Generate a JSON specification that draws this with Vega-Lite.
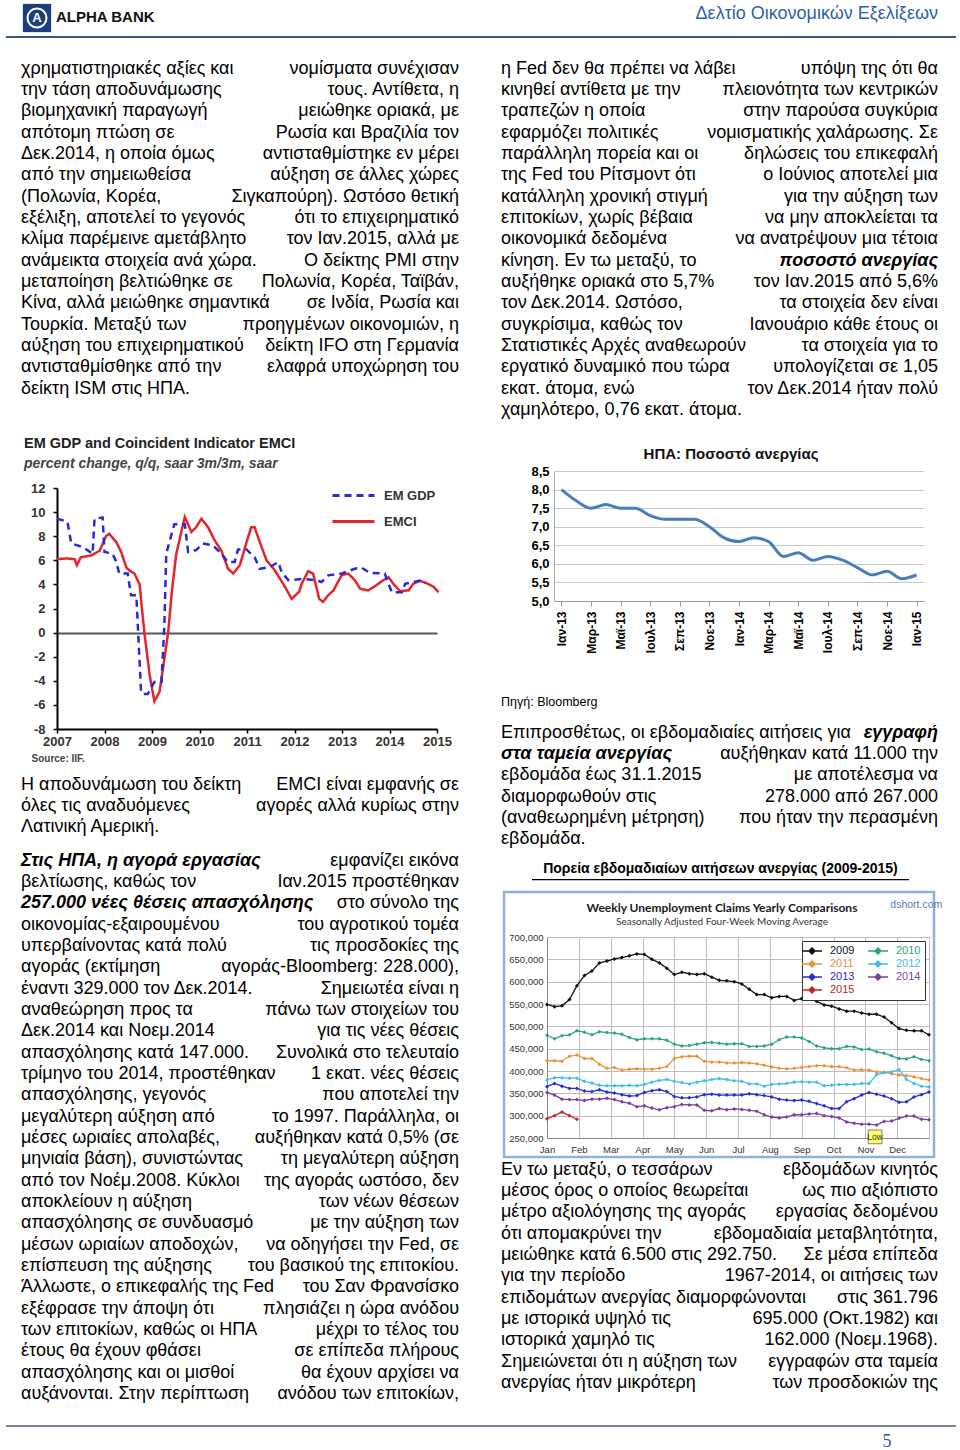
{
"$schema":"https://vega.github.io/schema/vega-lite/v6.json",
"padding":{"left":5,"top":3,"right":0,"bottom":0},
"background":"#ffffff",
"config":{"view":{"stroke":null},"font":"Liberation Sans","axis":{"labelFont":"Liberation Sans","titleFont":"Liberation Sans","labelOverlap":false,"labelFlush":false},"legend":{"labelFont":"Liberation Sans"},"title":{"font":"Liberation Sans","subtitleFont":"Liberation Sans"}},
"datasets":{
"leftA":[
{"ln":0,"a":"L","s":"n","t":"χρηματιστηριακές αξίες και"},{"ln":0,"a":"R","s":"n","t":"νομίσματα συνέχισαν"},
{"ln":1,"a":"L","s":"n","t":"την τάση αποδυνάμωσης"},{"ln":1,"a":"R","s":"n","t":"τους. Αντίθετα, η"},
{"ln":2,"a":"L","s":"n","t":"βιομηχανική παραγωγή"},{"ln":2,"a":"R","s":"n","t":"μειώθηκε οριακά, με"},
{"ln":3,"a":"L","s":"n","t":"απότομη πτώση σε"},{"ln":3,"a":"R","s":"n","t":"Ρωσία και Βραζιλία τον"},
{"ln":4,"a":"L","s":"n","t":"Δεκ.2014, η οποία όμως"},{"ln":4,"a":"R","s":"n","t":"αντισταθμίστηκε εν μέρει"},
{"ln":5,"a":"L","s":"n","t":"από την σημειωθείσα"},{"ln":5,"a":"R","s":"n","t":"αύξηση σε άλλες χώρες"},
{"ln":6,"a":"L","s":"n","t":"(Πολωνία, Κορέα,"},{"ln":6,"a":"R","s":"n","t":"Σιγκαπούρη). Ωστόσο θετική"},
{"ln":7,"a":"L","s":"n","t":"εξέλιξη, αποτελεί το γεγονός"},{"ln":7,"a":"R","s":"n","t":"ότι το επιχειρηματικό"},
{"ln":8,"a":"L","s":"n","t":"κλίμα παρέμεινε αμετάβλητο"},{"ln":8,"a":"R","s":"n","t":"τον Ιαν.2015, αλλά με"},
{"ln":9,"a":"L","s":"n","t":"ανάμεικτα στοιχεία ανά χώρα."},{"ln":9,"a":"R","s":"n","t":"Ο δείκτης PMI στην"},
{"ln":10,"a":"L","s":"n","t":"μεταποίηση βελτιώθηκε σε"},{"ln":10,"a":"R","s":"n","t":"Πολωνία, Κορέα, Ταϊβάν,"},
{"ln":11,"a":"L","s":"n","t":"Κίνα, αλλά μειώθηκε σημαντικά"},{"ln":11,"a":"R","s":"n","t":"σε Ινδία, Ρωσία και"},
{"ln":12,"a":"L","s":"n","t":"Τουρκία. Μεταξύ των"},{"ln":12,"a":"R","s":"n","t":"προηγμένων οικονομιών, η"},
{"ln":13,"a":"L","s":"n","t":"αύξηση του επιχειρηματικού"},{"ln":13,"a":"R","s":"n","t":"δείκτη IFO στη Γερμανία"},
{"ln":14,"a":"L","s":"n","t":"αντισταθμίσθηκε από την"},{"ln":14,"a":"R","s":"n","t":"ελαφρά υποχώρηση του"},
{"ln":15,"a":"L","s":"n","t":"δείκτη  ISM στις ΗΠΑ."}
],
"leftB":[
{"ln":0,"a":"L","s":"n","t":"Η αποδυνάμωση του δείκτη"},{"ln":0,"a":"R","s":"n","t":"EMCI είναι εμφανής σε"},
{"ln":1,"a":"L","s":"n","t":"όλες τις αναδυόμενες"},{"ln":1,"a":"R","s":"n","t":"αγορές αλλά κυρίως στην"},
{"ln":2,"a":"L","s":"n","t":"Λατινική Αμερική."}
],
"leftC":[
{"ln":0,"a":"L","s":"b","t":"Στις ΗΠΑ, η αγορά εργασίας"},{"ln":0,"a":"R","s":"n","t":"εμφανίζει εικόνα"},
{"ln":1,"a":"L","s":"n","t":"βελτίωσης, καθώς τον"},{"ln":1,"a":"R","s":"n","t":"Ιαν.2015 προστέθηκαν"},
{"ln":2,"a":"L","s":"b","t":"257.000 νέες θέσεις απασχόλησης"},{"ln":2,"a":"R","s":"n","t":"στο σύνολο της"},
{"ln":3,"a":"L","s":"n","t":"οικονομίας-εξαιρουμένου"},{"ln":3,"a":"R","s":"n","t":"του αγροτικού τομέα"},
{"ln":4,"a":"L","s":"n","t":"υπερβαίνοντας κατά πολύ"},{"ln":4,"a":"R","s":"n","t":"τις προσδοκίες της"},
{"ln":5,"a":"L","s":"n","t":"αγοράς (εκτίμηση"},{"ln":5,"a":"R","s":"n","t":"αγοράς-Bloomberg: 228.000),"},
{"ln":6,"a":"L","s":"n","t":"έναντι 329.000 τον Δεκ.2014."},{"ln":6,"a":"R","s":"n","t":"Σημειωτέα είναι η"},
{"ln":7,"a":"L","s":"n","t":"αναθεώρηση προς τα"},{"ln":7,"a":"R","s":"n","t":"πάνω των στοιχείων του"},
{"ln":8,"a":"L","s":"n","t":"Δεκ.2014 και Νοεμ.2014"},{"ln":8,"a":"R","s":"n","t":"για τις νέες θέσεις"},
{"ln":9,"a":"L","s":"n","t":"απασχόλησης κατά 147.000."},{"ln":9,"a":"R","s":"n","t":"Συνολικά στο τελευταίο"},
{"ln":10,"a":"L","s":"n","t":"τρίμηνο του 2014, προστέθηκαν"},{"ln":10,"a":"R","s":"n","t":"1 εκατ. νέες θέσεις"},
{"ln":11,"a":"L","s":"n","t":"απασχόλησης, γεγονός"},{"ln":11,"a":"R","s":"n","t":"που αποτελεί την"},
{"ln":12,"a":"L","s":"n","t":"μεγαλύτερη αύξηση από"},{"ln":12,"a":"R","s":"n","t":"το 1997. Παράλληλα, οι"},
{"ln":13,"a":"L","s":"n","t":"μέσες ωριαίες απολαβές,"},{"ln":13,"a":"R","s":"n","t":"αυξήθηκαν κατά 0,5% (σε"},
{"ln":14,"a":"L","s":"n","t":"μηνιαία βάση), συνιστώντας"},{"ln":14,"a":"R","s":"n","t":"τη μεγαλύτερη αύξηση"},
{"ln":15,"a":"L","s":"n","t":"από τον Νοέμ.2008. Κύκλοι"},{"ln":15,"a":"R","s":"n","t":"της αγοράς ωστόσο, δεν"},
{"ln":16,"a":"L","s":"n","t":"αποκλείουν η αύξηση"},{"ln":16,"a":"R","s":"n","t":"των νέων θέσεων"},
{"ln":17,"a":"L","s":"n","t":"απασχόλησης σε συνδυασμό"},{"ln":17,"a":"R","s":"n","t":"με την αύξηση των"},
{"ln":18,"a":"L","s":"n","t":"μέσων ωριαίων αποδοχών,"},{"ln":18,"a":"R","s":"n","t":"να οδηγήσει την Fed, σε"},
{"ln":19,"a":"L","s":"n","t":"επίσπευση της αύξησης"},{"ln":19,"a":"R","s":"n","t":"του βασικού της επιτοκίου."},
{"ln":20,"a":"L","s":"n","t":"Άλλωστε, ο επικεφαλής της Fed"},{"ln":20,"a":"R","s":"n","t":"του Σαν Φρανσίσκο"},
{"ln":21,"a":"L","s":"n","t":"εξέφρασε την άποψη ότι"},{"ln":21,"a":"R","s":"n","t":"πλησιάζει η ώρα ανόδου"},
{"ln":22,"a":"L","s":"n","t":"των επιτοκίων, καθώς οι ΗΠΑ"},{"ln":22,"a":"R","s":"n","t":"μέχρι το τέλος του"},
{"ln":23,"a":"L","s":"n","t":"έτους θα έχουν φθάσει"},{"ln":23,"a":"R","s":"n","t":"σε επίπεδα πλήρους"},
{"ln":24,"a":"L","s":"n","t":"απασχόλησης και οι μισθοί"},{"ln":24,"a":"R","s":"n","t":"θα έχουν αρχίσει να"},
{"ln":25,"a":"L","s":"n","t":"αυξάνονται. Στην περίπτωση"},{"ln":25,"a":"R","s":"n","t":"ανόδου των επιτοκίων,"}
],
"rightA":[
{"ln":0,"a":"L","s":"n","t":"η Fed δεν θα πρέπει να λάβει"},{"ln":0,"a":"R","s":"n","t":"υπόψη της ότι θα"},
{"ln":1,"a":"L","s":"n","t":"κινηθεί αντίθετα με την"},{"ln":1,"a":"R","s":"n","t":"πλειονότητα των κεντρικών"},
{"ln":2,"a":"L","s":"n","t":"τραπεζών η οποία"},{"ln":2,"a":"R","s":"n","t":"στην παρούσα συγκύρια"},
{"ln":3,"a":"L","s":"n","t":"εφαρμόζει πολιτικές"},{"ln":3,"a":"R","s":"n","t":"νομισματικής χαλάρωσης. Σε"},
{"ln":4,"a":"L","s":"n","t":"παράλληλη πορεία και οι"},{"ln":4,"a":"R","s":"n","t":"δηλώσεις του επικεφαλή"},
{"ln":5,"a":"L","s":"n","t":"της Fed του Ρίτσμοντ ότι"},{"ln":5,"a":"R","s":"n","t":"ο Ιούνιος αποτελεί μια"},
{"ln":6,"a":"L","s":"n","t":"κατάλληλη χρονική στιγμή"},{"ln":6,"a":"R","s":"n","t":"για την αύξηση των"},
{"ln":7,"a":"L","s":"n","t":"επιτοκίων, χωρίς βέβαια"},{"ln":7,"a":"R","s":"n","t":"να μην αποκλείεται τα"},
{"ln":8,"a":"L","s":"n","t":"οικονομικά δεδομένα"},{"ln":8,"a":"R","s":"n","t":"να ανατρέψουν μια τέτοια"},
{"ln":9,"a":"L","s":"n","t":"κίνηση. Εν τω μεταξύ, το"},{"ln":9,"a":"R","s":"b","t":"ποσοστό ανεργίας"},
{"ln":10,"a":"L","s":"n","t":"αυξήθηκε οριακά στο 5,7%"},{"ln":10,"a":"R","s":"n","t":"τον Ιαν.2015 από 5,6%"},
{"ln":11,"a":"L","s":"n","t":"τον Δεκ.2014. Ωστόσο,"},{"ln":11,"a":"R","s":"n","t":"τα στοιχεία δεν είναι"},
{"ln":12,"a":"L","s":"n","t":"συγκρίσιμα, καθώς τον"},{"ln":12,"a":"R","s":"n","t":"Ιανουάριο κάθε έτους οι"},
{"ln":13,"a":"L","s":"n","t":"Στατιστικές Αρχές αναθεωρούν"},{"ln":13,"a":"R","s":"n","t":"τα στοιχεία για το"},
{"ln":14,"a":"L","s":"n","t":"εργατικό δυναμικό που τώρα"},{"ln":14,"a":"R","s":"n","t":"υπολογίζεται σε 1,05"},
{"ln":15,"a":"L","s":"n","t":"εκατ. άτομα, ενώ"},{"ln":15,"a":"R","s":"n","t":"τον Δεκ.2014 ήταν πολύ"},
{"ln":16,"a":"L","s":"n","t":"χαμηλότερο, 0,76 εκατ. άτομα."}
],
"rightS":[{"ln":0,"a":"L","s":"n","t":"Πηγή: Bloomberg"}],
"rightC":[
{"ln":0,"a":"L","s":"n","t":"Επιπροσθέτως, οι εβδομαδιαίες αιτήσεις για"},{"ln":0,"a":"R","s":"b","t":"εγγραφή"},
{"ln":1,"a":"L","s":"b","t":"στα ταμεία ανεργίας"},{"ln":1,"a":"R","s":"n","t":"αυξήθηκαν κατά 11.000 την"},
{"ln":2,"a":"L","s":"n","t":"εβδομάδα έως 31.1.2015"},{"ln":2,"a":"R","s":"n","t":"με αποτέλεσμα να"},
{"ln":3,"a":"L","s":"n","t":"διαμορφωθούν στις"},{"ln":3,"a":"R","s":"n","t":"278.000 από 267.000"},
{"ln":4,"a":"L","s":"n","t":"(αναθεωρημένη μέτρηση)"},{"ln":4,"a":"R","s":"n","t":"που ήταν την περασμένη"},
{"ln":5,"a":"L","s":"n","t":"εβδομάδα."}
],
"rightD":[
{"ln":0,"a":"L","s":"n","t":"Εν τω μεταξύ, ο τεσσάρων"},{"ln":0,"a":"R","s":"n","t":"εβδομάδων κινητός"},
{"ln":1,"a":"L","s":"n","t":"μέσος όρος ο οποίος θεωρείται"},{"ln":1,"a":"R","s":"n","t":"ως πιο αξιόπιστο"},
{"ln":2,"a":"L","s":"n","t":"μέτρο αξιολόγησης της αγοράς"},{"ln":2,"a":"R","s":"n","t":"εργασίας δεδομένου"},
{"ln":3,"a":"L","s":"n","t":"ότι απομακρύνει την"},{"ln":3,"a":"R","s":"n","t":"εβδομαδιαία μεταβλητότητα,"},
{"ln":4,"a":"L","s":"n","t":"μειώθηκε κατά 6.500 στις 292.750."},{"ln":4,"a":"R","s":"n","t":"Σε μέσα επίπεδα"},
{"ln":5,"a":"L","s":"n","t":"για την περίοδο"},{"ln":5,"a":"R","s":"n","t":"1967-2014, οι αιτήσεις των"},
{"ln":6,"a":"L","s":"n","t":"επιδομάτων ανεργίας διαμορφώνονται"},{"ln":6,"a":"R","s":"n","t":"στις 361.796"},
{"ln":7,"a":"L","s":"n","t":"με ιστορικά υψηλό τις"},{"ln":7,"a":"R","s":"n","t":"695.000 (Οκτ.1982) και"},
{"ln":8,"a":"L","s":"n","t":"ιστορικά χαμηλό τις"},{"ln":8,"a":"R","s":"n","t":"162.000 (Νοεμ.1968)."},
{"ln":9,"a":"L","s":"n","t":"Σημειώνεται ότι η αύξηση των"},{"ln":9,"a":"R","s":"n","t":"εγγραφών στα ταμεία"},
{"ln":10,"a":"L","s":"n","t":"ανεργίας ήταν μικρότερη"},{"ln":10,"a":"R","s":"n","t":"των προσδοκιών της"}
],
"em":[
{"s":"EMCI","t":2007.0,"v":6.1},{"s":"EMCI","t":2007.2,"v":6.15},{"s":"EMCI","t":2007.37,"v":6.1},{"s":"EMCI","t":2007.42,"v":5.6},{"s":"EMCI","t":2007.5,"v":6.25},{"s":"EMCI","t":2007.72,"v":6.4},{"s":"EMCI","t":2007.9,"v":6.8},{"s":"EMCI","t":2008.03,"v":8.0},{"s":"EMCI","t":2008.1,"v":8.2},{"s":"EMCI","t":2008.25,"v":7.5},{"s":"EMCI","t":2008.35,"v":6.7},{"s":"EMCI","t":2008.46,"v":5.4},{"s":"EMCI","t":2008.53,"v":5.15},{"s":"EMCI","t":2008.63,"v":4.9},{"s":"EMCI","t":2008.74,"v":4.0},{"s":"EMCI","t":2008.78,"v":2.3},{"s":"EMCI","t":2008.84,"v":0.0},{"s":"EMCI","t":2008.95,"v":-3.5},{"s":"EMCI","t":2009.05,"v":-5.7},{"s":"EMCI","t":2009.16,"v":-4.9},{"s":"EMCI","t":2009.26,"v":-2.2},{"s":"EMCI","t":2009.34,"v":0.0},{"s":"EMCI","t":2009.42,"v":3.5},{"s":"EMCI","t":2009.51,"v":6.5},{"s":"EMCI","t":2009.69,"v":9.6},{"s":"EMCI","t":2009.83,"v":8.35},{"s":"EMCI","t":2009.93,"v":8.75},{"s":"EMCI","t":2010.04,"v":9.45},{"s":"EMCI","t":2010.18,"v":8.75},{"s":"EMCI","t":2010.32,"v":7.65},{"s":"EMCI","t":2010.46,"v":6.8},{"s":"EMCI","t":2010.6,"v":5.3},{"s":"EMCI","t":2010.71,"v":4.9},{"s":"EMCI","t":2010.85,"v":5.6},{"s":"EMCI","t":2010.99,"v":7.5},{"s":"EMCI","t":2011.09,"v":8.75},{"s":"EMCI","t":2011.16,"v":8.75},{"s":"EMCI","t":2011.27,"v":7.5},{"s":"EMCI","t":2011.41,"v":6.0},{"s":"EMCI","t":2011.58,"v":5.2},{"s":"EMCI","t":2011.8,"v":3.8},{"s":"EMCI","t":2011.94,"v":2.8},{"s":"EMCI","t":2012.1,"v":3.4},{"s":"EMCI","t":2012.15,"v":4.05},{"s":"EMCI","t":2012.29,"v":5.1},{"s":"EMCI","t":2012.39,"v":4.9},{"s":"EMCI","t":2012.46,"v":3.8},{"s":"EMCI","t":2012.52,"v":2.8},{"s":"EMCI","t":2012.6,"v":2.55},{"s":"EMCI","t":2012.71,"v":3.1},{"s":"EMCI","t":2012.82,"v":3.5},{"s":"EMCI","t":2012.99,"v":4.75},{"s":"EMCI","t":2013.13,"v":4.9},{"s":"EMCI","t":2013.27,"v":4.35},{"s":"EMCI","t":2013.38,"v":3.65},{"s":"EMCI","t":2013.55,"v":3.5},{"s":"EMCI","t":2013.69,"v":3.85},{"s":"EMCI","t":2013.87,"v":4.35},{"s":"EMCI","t":2013.98,"v":4.6},{"s":"EMCI","t":2014.08,"v":4.05},{"s":"EMCI","t":2014.22,"v":3.45},{"s":"EMCI","t":2014.4,"v":3.5},{"s":"EMCI","t":2014.5,"v":4.05},{"s":"EMCI","t":2014.64,"v":4.3},{"s":"EMCI","t":2014.78,"v":4.1},{"s":"EMCI","t":2014.93,"v":3.8},{"s":"EMCI","t":2015.03,"v":3.35},
{"s":"EM GDP","t":2007.0,"v":9.45},{"s":"EM GDP","t":2007.22,"v":9.2},{"s":"EM GDP","t":2007.3,"v":7.4},{"s":"EM GDP","t":2007.54,"v":7.1},{"s":"EM GDP","t":2007.75,"v":6.55},{"s":"EM GDP","t":2007.79,"v":9.45},{"s":"EM GDP","t":2007.96,"v":9.55},{"s":"EM GDP","t":2008.0,"v":6.7},{"s":"EM GDP","t":2008.17,"v":6.55},{"s":"EM GDP","t":2008.25,"v":5.85},{"s":"EM GDP","t":2008.31,"v":4.9},{"s":"EM GDP","t":2008.49,"v":4.9},{"s":"EM GDP","t":2008.53,"v":3.8},{"s":"EM GDP","t":2008.56,"v":3.1},{"s":"EM GDP","t":2008.67,"v":3.1},{"s":"EM GDP","t":2008.77,"v":-4.9},{"s":"EM GDP","t":2008.8,"v":-5.1},{"s":"EM GDP","t":2008.91,"v":-5.1},{"s":"EM GDP","t":2009.05,"v":-4.1},{"s":"EM GDP","t":2009.2,"v":-4.1},{"s":"EM GDP","t":2009.26,"v":0.6},{"s":"EM GDP","t":2009.3,"v":6.55},{"s":"EM GDP","t":2009.47,"v":9.0},{"s":"EM GDP","t":2009.69,"v":9.0},{"s":"EM GDP","t":2009.76,"v":6.7},{"s":"EM GDP","t":2009.93,"v":6.85},{"s":"EM GDP","t":2010.07,"v":7.4},{"s":"EM GDP","t":2010.28,"v":7.25},{"s":"EM GDP","t":2010.46,"v":6.55},{"s":"EM GDP","t":2010.6,"v":5.85},{"s":"EM GDP","t":2010.74,"v":5.85},{"s":"EM GDP","t":2010.81,"v":6.9},{"s":"EM GDP","t":2010.99,"v":6.9},{"s":"EM GDP","t":2011.16,"v":6.25},{"s":"EM GDP","t":2011.27,"v":5.3},{"s":"EM GDP","t":2011.48,"v":5.45},{"s":"EM GDP","t":2011.66,"v":5.85},{"s":"EM GDP","t":2011.73,"v":5.0},{"s":"EM GDP","t":2011.87,"v":4.35},{"s":"EM GDP","t":2012.18,"v":4.45},{"s":"EM GDP","t":2012.43,"v":4.35},{"s":"EM GDP","t":2012.57,"v":4.2},{"s":"EM GDP","t":2012.71,"v":4.75},{"s":"EM GDP","t":2012.99,"v":4.9},{"s":"EM GDP","t":2013.27,"v":5.3},{"s":"EM GDP","t":2013.41,"v":5.4},{"s":"EM GDP","t":2013.59,"v":4.95},{"s":"EM GDP","t":2013.9,"v":4.9},{"s":"EM GDP","t":2013.98,"v":4.05},{"s":"EM GDP","t":2014.05,"v":3.35},{"s":"EM GDP","t":2014.26,"v":3.35},{"s":"EM GDP","t":2014.33,"v":4.05},{"s":"EM GDP","t":2014.68,"v":4.35},{"s":"EM GDP","t":2014.75,"v":4.1}
],
"ue":[
{"m":"Ιαν-13","v":8.0},{"m":"Φεβ-13","v":7.7},{"m":"Μαρ-13","v":7.5},{"m":"Απρ-13","v":7.6},{"m":"Μαϊ-13","v":7.5},{"m":"Ιουν-13","v":7.5},{"m":"Ιουλ-13","v":7.3},{"m":"Αυγ-13","v":7.2},{"m":"Σεπ-13","v":7.2},{"m":"Οκτ-13","v":7.2},{"m":"Νοε-13","v":7.0},{"m":"Δεκ-13","v":6.7},{"m":"Ιαν-14","v":6.6},{"m":"Φεβ-14","v":6.7},{"m":"Μαρ-14","v":6.6},{"m":"Απρ-14","v":6.2},{"m":"Μαϊ-14","v":6.3},{"m":"Ιουν-14","v":6.1},{"m":"Ιουλ-14","v":6.2},{"m":"Αυγ-14","v":6.1},{"m":"Σεπ-14","v":5.9},{"m":"Οκτ-14","v":5.7},{"m":"Νοε-14","v":5.8},{"m":"Δεκ-14","v":5.6},{"m":"Ιαν-15","v":5.7}
],
"claims":[
{"w":1,"2009":549,"2010":480,"2011":423,"2012":380,"2013":365,"2014":352,"2015":293},
{"w":2,"2009":544,"2010":472,"2011":423,"2012":385,"2013":372,"2014":346,"2015":300},
{"w":3,"2009":546,"2010":479,"2011":422,"2012":385,"2013":366,"2014":337,"2015":308},
{"w":4,"2009":560,"2010":481,"2011":433,"2012":384,"2013":361,"2014":336,"2015":300},
{"w":5,"2009":591,"2010":490,"2011":436,"2012":384,"2013":361,"2014":336,"2015":292},
{"w":6,"2009":614,"2010":487,"2011":428,"2012":377,"2013":355,"2014":334},
{"w":7,"2009":624,"2010":481,"2011":428,"2012":373,"2013":354,"2014":337},
{"w":8,"2009":642,"2010":488,"2011":415,"2012":368,"2013":358,"2014":337},
{"w":9,"2009":646,"2010":486,"2011":406,"2012":367,"2013":353,"2014":339},
{"w":10,"2009":651,"2010":485,"2011":408,"2012":367,"2013":351,"2014":336},
{"w":11,"2009":654,"2010":482,"2011":402,"2012":367,"2013":347,"2014":331},
{"w":12,"2009":658,"2010":475,"2011":404,"2012":368,"2013":344,"2014":328},
{"w":13,"2009":662,"2010":470,"2011":405,"2012":367,"2013":345,"2014":320},
{"w":14,"2009":661,"2010":472,"2011":404,"2012":370,"2013":352,"2014":322},
{"w":15,"2009":650,"2010":472,"2011":404,"2012":375,"2013":356,"2014":317},
{"w":16,"2009":642,"2010":472,"2011":406,"2012":379,"2013":358,"2014":313},
{"w":17,"2009":630,"2010":469,"2011":410,"2012":381,"2013":354,"2014":318},
{"w":18,"2009":616,"2010":460,"2011":428,"2012":377,"2013":343,"2014":320},
{"w":19,"2009":621,"2010":456,"2011":432,"2012":374,"2013":340,"2014":325},
{"w":20,"2009":618,"2010":457,"2011":433,"2012":371,"2013":340,"2014":324},
{"w":21,"2009":616,"2010":460,"2011":433,"2012":375,"2013":342,"2014":324},
{"w":22,"2009":618,"2010":463,"2011":422,"2012":378,"2013":347,"2014":312},
{"w":23,"2009":610,"2010":464,"2011":420,"2012":381,"2013":348,"2014":311},
{"w":24,"2009":603,"2010":462,"2011":420,"2012":383,"2013":346,"2014":316},
{"w":25,"2009":602,"2010":460,"2011":418,"2012":381,"2013":346,"2014":313},
{"w":26,"2009":600,"2010":461,"2011":418,"2012":378,"2013":346,"2014":315},
{"w":27,"2009":595,"2010":461,"2011":419,"2012":377,"2013":346,"2014":314},
{"w":28,"2009":583,"2010":455,"2011":418,"2012":371,"2013":349,"2014":312},
{"w":29,"2009":571,"2010":455,"2011":416,"2012":371,"2013":347,"2014":310},
{"w":30,"2009":571,"2010":456,"2011":413,"2012":366,"2013":345,"2014":302},
{"w":31,"2009":564,"2010":460,"2011":409,"2012":370,"2013":342,"2014":297},
{"w":32,"2009":567,"2010":470,"2011":406,"2012":371,"2013":337,"2014":295},
{"w":33,"2009":567,"2010":476,"2011":405,"2012":372,"2013":335,"2014":297},
{"w":34,"2009":558,"2010":476,"2011":406,"2012":375,"2013":334,"2014":302},
{"w":35,"2009":562,"2010":474,"2011":408,"2012":376,"2013":335,"2014":302},
{"w":36,"2009":562,"2010":466,"2011":410,"2012":375,"2013":332,"2014":304},
{"w":37,"2009":556,"2010":456,"2011":412,"2012":375,"2013":327,"2014":305},
{"w":38,"2009":548,"2010":452,"2011":412,"2012":367,"2013":322,"2014":300},
{"w":39,"2009":545,"2010":450,"2011":410,"2012":368,"2013":316,"2014":298},
{"w":40,"2009":539,"2010":450,"2011":410,"2012":370,"2013":316,"2014":295},
{"w":41,"2009":534,"2010":455,"2011":407,"2012":370,"2013":331,"2014":286},
{"w":42,"2009":534,"2010":454,"2011":402,"2012":370,"2013":338,"2014":283},
{"w":43,"2009":530,"2010":448,"2011":403,"2012":372,"2013":346,"2014":281},
{"w":44,"2009":527,"2010":449,"2011":402,"2012":372,"2013":352,"2014":281},
{"w":45,"2009":527,"2010":443,"2011":398,"2012":392,"2013":348,"2014":279},
{"w":46,"2009":521,"2010":440,"2011":397,"2012":396,"2013":344,"2014":287},
{"w":47,"2009":508,"2010":434,"2011":394,"2012":398,"2013":338,"2014":288},
{"w":48,"2009":495,"2010":428,"2011":391,"2012":403,"2013":330,"2014":294},
{"w":49,"2009":491,"2010":427,"2011":390,"2012":381,"2013":331,"2014":299},
{"w":50,"2009":490,"2010":432,"2011":387,"2012":372,"2013":342,"2014":299},
{"w":51,"2009":490,"2010":426,"2011":383,"2012":366,"2013":347,"2014":292},
{"w":52,"2009":481,"2010":423,"2011":380,"2012":364,"2013":353,"2014":291}
]
},
"spacing":18,
"vconcat":[
{
"width":950,"height":19,
"layer":[
{"data":{"values":[{"a":"L","a2":"R","r":"b"}]},"mark":{"type":"rule","color":"#3e5877","strokeWidth":2},
 "encoding":{"x":{"field":"a","type":"nominal","scale":{"type":"point","domain":["L","R"],"padding":0},"axis":null},"x2":{"field":"a2"},"y":{"field":"r","type":"nominal","scale":{"type":"point","domain":["t","b"],"padding":0},"axis":null}}},
{"data":{"values":[{"a":"L","r":"t"}]},"mark":{"type":"square","size":800,"color":"#1c3f7c","opacity":1,"xOffset":31},
 "encoding":{"x":{"field":"a","type":"nominal"},"y":{"field":"r","type":"nominal"}}},
{"data":{"values":[{"a":"L","r":"t"}]},"mark":{"type":"point","shape":"circle","size":360,"filled":false,"color":"#ffffff","strokeWidth":2,"opacity":1,"xOffset":31},
 "encoding":{"x":{"field":"a","type":"nominal"},"y":{"field":"r","type":"nominal"}}},
{"data":{"values":[{"a":"L","r":"t","t":"A"}]},"mark":{"type":"text","fontSize":13,"fontWeight":"bold","color":"#ffffff","align":"center","baseline":"middle","xOffset":31},
 "encoding":{"x":{"field":"a","type":"nominal"},"y":{"field":"r","type":"nominal"},"text":{"field":"t","type":"nominal"}}},
{"data":{"values":[{"a":"L","r":"t","t":"ALPHA BANK"}]},"mark":{"type":"text","fontSize":15,"fontWeight":"bold","color":"#111111","align":"left","baseline":"middle","dx":50,"dy":-1},
 "encoding":{"x":{"field":"a","type":"nominal"},"y":{"field":"r","type":"nominal"},"text":{"field":"t","type":"nominal"}}},
{"data":{"values":[{"a":"R","r":"t","t":"Δελτίο Οικονομικών Εξελίξεων"}]},"mark":{"type":"text","fontSize":18,"color":"#2f5fa7","align":"right","baseline":"middle","dx":-18,"dy":-4},
 "encoding":{"x":{"field":"a","type":"nominal"},"y":{"field":"r","type":"nominal"},"text":{"field":"t","type":"nominal"}}}
]
},
{
"spacing":0,
"hconcat":[
{"width":15,"height":20,"data":{"values":[{}]},"mark":{"type":"text"},"encoding":{"text":{"value":""}}},
{
"spacing":0,
"resolve":{"scale":{"color":"independent","strokeDash":"independent"},"legend":{"color":"independent","strokeDash":"independent"}},
"vconcat":[
{"width":438,"height":378.6,"data":{"name":"leftA"},
 "mark":{"type":"text","font":"Liberation Sans","fontSize":18,"baseline":"middle","color":"#000000","align":{"expr":"datum.a == 'R' ? 'right' : 'left'"},"fontStyle":{"expr":"datum.s == 'b' ? 'italic' : 'normal'"},"fontWeight":{"expr":"datum.s == 'b' ? 'bold' : 'normal'"}},
 "encoding":{"x":{"field":"a","type":"nominal","scale":{"type":"point","domain":["L","R"],"padding":0},"axis":null},"y":{"field":"ln","type":"quantitative","scale":{"domain":[-0.594,17.154],"reverse":true,"nice":false,"zero":false},"axis":null},"text":{"field":"t","type":"nominal"}}},
{"spacing":0,"resolve":{"scale":{"color":"independent","strokeDash":"independent"},"legend":{"color":"independent","strokeDash":"independent"}},"hconcat":[
 {"width":1,"height":20,"data":{"values":[{}]},"mark":{"type":"text"},"encoding":{"text":{"value":""}}},
 {"width":380,"height":241,"data":{"name":"em"},
 "title":{"text":"EM GDP and Coincident Indicator EMCI","subtitle":"percent change, q/q, saar 3m/3m, saar","anchor":"start","frame":"group","dx":-33,"fontSize":14.5,"fontWeight":"bold","color":"#222222","subtitleFontSize":14,"subtitleFontStyle":"italic","subtitleFontWeight":"bold","subtitleColor":"#444444","subtitlePadding":6,"offset":10},
 "mark":{"type":"line","strokeWidth":2.5},
 "encoding":{
    "x":{"field":"t","type":"quantitative","scale":{"domain":[2007,2015],"nice":false,"zero":false},"axis":{"values":[2007,2008,2009,2010,2011,2012,2013,2014,2015],"tickCount":20,"format":"d","labelOverlap":false,"labelFlush":false,"labelFontSize":13,"labelFontWeight":"bold","labelColor":"#333333","labelPadding":2,"domainColor":"#000000","domainWidth":2,"tickColor":"#000000","tickSize":4,"tickWidth":1.5,"grid":false,"title":"Source: IIF.","titleFontSize":10,"titleFontWeight":"bold","titleColor":"#444444","titleAnchor":"start","titleAlign":"left","titleBaseline":"middle","titleX":-26,"titleY":29}},
    "y":{"field":"v","type":"quantitative","scale":{"domain":[-8,12],"nice":false,"zero":false},"axis":{"values":[-8,-6,-4,-2,0,2,4,6,8,10,12],"tickCount":20,"labelOverlap":false,"labelFlush":false,"labelExpr":"datum.value < 0 ? '-' + (-datum.value) : '' + datum.value","labelFontSize":13,"labelFontWeight":"bold","labelColor":"#333333","labelPadding":8,"domainColor":"#000000","domainWidth":2,"tickColor":"#000000","tickSize":4,"tickWidth":1.5,"grid":true,"gridWidth":2,"gridColor":{"condition":{"test":"datum.value === 0","value":"#555555"},"value":"transparent"},"title":" ","titleAngle":0,"titleX":-35,"titleY":120,"titleAlign":"left","titleBaseline":"middle"}},
    "color":{"field":"s","type":"nominal","scale":{"domain":["EM GDP","EMCI"],"range":["#2a2ad4","#e3262d"]},"legend":{"title":null,"orient":"none","legendX":284.5,"legendY":-4.5,"symbolType":"M-2,0H2","symbolSize":441,"symbolStrokeWidth":3,"labelFontSize":13,"labelFontWeight":"bold","labelColor":"#333333","labelOffset":18.5,"rowPadding":7}},
    "strokeDash":{"field":"s","type":"nominal","scale":{"domain":["EM GDP","EMCI"],"range":[[7,5],[1,0]]},"legend":{"title":null,"orient":"none","legendX":284.5,"legendY":-4.5,"symbolType":"M-2,0H2","symbolSize":441,"symbolStrokeWidth":3,"labelFontSize":13,"labelFontWeight":"bold","labelColor":"#333333","labelOffset":18.5,"rowPadding":7}}
 }}
]},
{"width":438,"height":87,"data":{"name":"leftB"},
 "mark":{"type":"text","font":"Liberation Sans","fontSize":18,"baseline":"middle","color":"#000000","align":{"expr":"datum.a == 'R' ? 'right' : 'left'"},"fontStyle":{"expr":"datum.s == 'b' ? 'italic' : 'normal'"},"fontWeight":{"expr":"datum.s == 'b' ? 'bold' : 'normal'"}},
 "encoding":{"x":{"field":"a","type":"nominal","scale":{"type":"point","domain":["L","R"],"padding":0},"axis":null},"y":{"field":"ln","type":"quantitative","scale":{"domain":[-1.0156,3.0625],"reverse":true,"nice":false,"zero":false},"axis":null},"text":{"field":"t","type":"nominal"}}},
{"width":438,"height":556.7,"data":{"name":"leftC"},
 "mark":{"type":"text","font":"Liberation Sans","fontSize":18,"baseline":"middle","color":"#000000","align":{"expr":"datum.a == 'R' ? 'right' : 'left'"},"fontStyle":{"expr":"datum.s == 'b' ? 'italic' : 'normal'"},"fontWeight":{"expr":"datum.s == 'b' ? 'bold' : 'normal'"}},
 "encoding":{"x":{"field":"a","type":"nominal","scale":{"type":"point","domain":["L","R"],"padding":0},"axis":null},"y":{"field":"ln","type":"quantitative","scale":{"domain":[-0.5,25.595],"reverse":true,"nice":false,"zero":false},"axis":null},"text":{"field":"t","type":"nominal"}}}
]
},
{"width":42,"height":20,"data":{"values":[{}]},"mark":{"type":"text"},"encoding":{"text":{"value":""}}},
{
"spacing":0,
"resolve":{"scale":{"color":"independent"},"legend":{"color":"independent"}},
"vconcat":[
{"width":437,"height":390.7,"data":{"name":"rightA"},
 "mark":{"type":"text","font":"Liberation Sans","fontSize":18,"baseline":"middle","color":"#000000","align":{"expr":"datum.a == 'R' ? 'right' : 'left'"},"fontStyle":{"expr":"datum.s == 'b' ? 'italic' : 'normal'"},"fontWeight":{"expr":"datum.s == 'b' ? 'bold' : 'normal'"}},
 "encoding":{"x":{"field":"a","type":"nominal","scale":{"type":"point","domain":["L","R"],"padding":0},"axis":null},"y":{"field":"ln","type":"quantitative","scale":{"domain":[-0.594,17.72],"reverse":true,"nice":false,"zero":false},"axis":null},"text":{"field":"t","type":"nominal"}}},
{"spacing":0,"hconcat":[
 {"width":1,"height":20,"data":{"values":[{}]},"mark":{"type":"text"},"encoding":{"text":{"value":""}}},
 {"width":370,"height":130,"data":{"name":"ue"},
 "title":{"text":"ΗΠΑ: Ποσοστό ανεργίας","anchor":"middle","frame":"group","dx":-8,"fontSize":15,"fontWeight":"bold","color":"#111111","offset":3},
 "mark":{"type":"line","color":"#4a7ebb","strokeWidth":3,"interpolate":"monotone"},
 "encoding":{
  "x":{"field":"m","type":"ordinal","scale":{"domain":["Ιαν-13","Φεβ-13","Μαρ-13","Απρ-13","Μαϊ-13","Ιουν-13","Ιουλ-13","Αυγ-13","Σεπ-13","Οκτ-13","Νοε-13","Δεκ-13","Ιαν-14","Φεβ-14","Μαρ-14","Απρ-14","Μαϊ-14","Ιουν-14","Ιουλ-14","Αυγ-14","Σεπ-14","Οκτ-14","Νοε-14","Δεκ-14","Ιαν-15"]},
   "axis":{"values":["Ιαν-13","Μαρ-13","Μαϊ-13","Ιουλ-13","Σεπ-13","Νοε-13","Ιαν-14","Μαρ-14","Μαϊ-14","Ιουλ-14","Σεπ-14","Νοε-14","Ιαν-15"],"labelOverlap":false,"labelAngle":-90,"labelFontSize":12,"labelFontWeight":"bold","labelColor":"#000000","labelPadding":5,"domainColor":"#999999","tickColor":"#999999","tickSize":5,"grid":false,"title":null}},
  "y":{"field":"v","type":"quantitative","scale":{"domain":[5,8.5],"nice":false,"zero":false},
   "axis":{"values":[5,5.5,6,6.5,7,7.5,8,8.5],"tickCount":20,"labelOverlap":false,"labelFlush":false,"labelExpr":"replace(format(datum.value, '.1f'), '.', ',')","labelFontSize":13,"labelFontWeight":"bold","labelColor":"#000000","labelPadding":5,"ticks":false,"domainColor":"#aaaaaa","grid":true,"gridColor":"#c8c8c8","title":" ","titleAngle":0,"titleX":-52,"titleY":65,"titleAlign":"left","titleBaseline":"middle"}}
 }}
]},
{"width":437,"height":67.23,"data":{"name":"rightS"},
 "mark":{"type":"text","font":"Liberation Sans","fontSize":12.5,"baseline":"middle","align":"left","color":"#000000"},
 "encoding":{"x":{"field":"a","type":"nominal","scale":{"type":"point","domain":["L","R"],"padding":0},"axis":null},"y":{"field":"ln","type":"quantitative","scale":{"domain":[-2.2484,0.903],"reverse":true,"nice":false,"zero":false},"axis":null},"text":{"field":"t","type":"nominal"}}},
{"width":437,"height":136.7,"data":{"name":"rightC"},
 "mark":{"type":"text","font":"Liberation Sans","fontSize":18,"baseline":"middle","color":"#000000","align":{"expr":"datum.a == 'R' ? 'right' : 'left'"},"fontStyle":{"expr":"datum.s == 'b' ? 'italic' : 'normal'"},"fontWeight":{"expr":"datum.s == 'b' ? 'bold' : 'normal'"}},
 "encoding":{"x":{"field":"a","type":"nominal","scale":{"type":"point","domain":["L","R"],"padding":0},"axis":null},"y":{"field":"ln","type":"quantitative","scale":{"domain":[-0.5,5.908],"reverse":true,"nice":false,"zero":false},"axis":null},"text":{"field":"t","type":"nominal"}}},
{"spacing":0,"hconcat":[
 {"width":30,"height":20,"data":{"values":[{}]},"mark":{"type":"text"},"encoding":{"text":{"value":""}}},
 {"width":377,"height":31,
  "layer":[
   {"data":{"values":[{"a":"C","r":"t","t":"Πορεία εβδομαδιαίων αιτήσεων ανεργίας (2009-2015)"}]},"mark":{"type":"text","font":"Liberation Sans","fontSize":14,"fontWeight":"bold","baseline":"middle","align":"center","color":"#000000"},
    "encoding":{"x":{"field":"a","type":"nominal","scale":{"type":"point","domain":["L","C","R"],"padding":0},"axis":null},"y":{"field":"r","type":"nominal","scale":{"type":"point","domain":["t","u"],"padding":1.222},"axis":null},"text":{"field":"t","type":"nominal"}}},
   {"data":{"values":[{"a":"L","a2":"R","r":"u"}]},"mark":{"type":"rule","color":"#000000","strokeWidth":1.3},
    "encoding":{"x":{"field":"a","type":"nominal"},"x2":{"field":"a2"},"y":{"field":"r","type":"nominal"}}}
  ]}
]},
{"spacing":0,"resolve":{"scale":{"color":"independent"},"legend":{"color":"independent"}},"hconcat":[
 {"width":1,"height":20,"data":{"values":[{}]},"mark":{"type":"text"},"encoding":{"text":{"value":""}}},
 {"width":382,"height":201,
 "title":{"text":"Weekly Unemployment Claims Yearly Comparisons","subtitle":"Seasonally Adjusted Four-Week Moving Average","anchor":"middle","frame":"group","dx":-16,"font":"Lato","fontSize":12,"fontWeight":"bold","color":"#1a1a1a","subtitleFont":"Lato","subtitleFontSize":10,"subtitleColor":"#333333","subtitlePadding":2,"offset":-37},
 "layer":[
  {"data":{"name":"claims"},"transform":[{"fold":["2009","2010","2011","2012","2013","2014","2015"],"as":["yr","v"]},{"filter":"isValid(datum.v)"}],
   "mark":{"type":"line","strokeWidth":1.3,"point":{"shape":"diamond","size":16,"filled":true}},
   "encoding":{
    "x":{"field":"w","type":"quantitative","scale":{"domain":[1,52],"nice":false,"zero":false},"axis":{"values":[1,5.25,9.5,13.75,18,22.25,26.5,30.75,35,39.25,43.5,47.75,52],"tickCount":40,"labelOverlap":false,"labelFlush":false,"labelExpr":"['Jan','Feb','Mar','Apr','May','Jun','Jul','Aug','Sep','Oct','Nov','Dec',''][round((datum.value-1)/4.25)]","labelFontSize":9.5,"labelColor":"#333333","labelPadding":6,"ticks":false,"domainColor":"#888888","grid":true,"gridColor":"#bdbdbd","title":null}},
    "y":{"field":"v","type":"quantitative","scale":{"domain":[250,700],"nice":false,"zero":false},"axis":{"values":[250,300,350,400,450,500,550,600,650,700],"tickCount":40,"labelOverlap":false,"labelFlush":false,"labelExpr":"format(datum.value * 1000, ',')","labelFontSize":9.5,"labelColor":"#333333","labelPadding":4,"ticks":false,"domainColor":"#888888","grid":true,"gridColor":"#bdbdbd","title":null}},
    "color":{"field":"yr","type":"nominal","scale":{"domain":["2009","2010","2011","2012","2013","2014","2015"],"range":["#111111","#2aa774","#e8923a","#3fbfe3","#2c2ccf","#7b3f9e","#c0282d"]},
     "legend":{"title":null,"orient":"top-right","offset":4,"columns":2,"direction":"horizontal","fillColor":"#ffffff","strokeColor":"#333333","padding":4,"symbolType":"M-2,0H2M0,-0.6L0.6,0L0,0.6L-0.6,0Z","symbolSize":100,"symbolStrokeWidth":1.5,"labelFontSize":11,"labelOffset":12,"columnPadding":10,"rowPadding":1,
      "labelColor":{"expr":"datum.label == '2009' ? '#111111' : datum.label == '2010' ? '#2aa774' : datum.label == '2011' ? '#e8923a' : datum.label == '2012' ? '#3fbfe3' : datum.label == '2013' ? '#2c2ccf' : datum.label == '2014' ? '#7b3f9e' : '#c0282d'"}}}
   }},
  {"data":{"values":[{}]},"mark":{"type":"rect","filled":false,"color":"#8fb0d8","strokeWidth":2.5},
   "encoding":{"x":{"datum":-4.74,"type":"quantitative"},"x2":{"datum":52.67},"y":{"datum":800.7,"type":"quantitative"},"y2":{"datum":207.5}}},
  {"data":{"values":[{"t":"dshort.com"}]},"mark":{"type":"text","fontSize":10.5,"color":"#5a7db5","align":"center","baseline":"middle"},
   "encoding":{"x":{"datum":50.3,"type":"quantitative"},"y":{"datum":772,"type":"quantitative"},"text":{"field":"t","type":"nominal"}}},
  {"data":{"values":[{}]},"mark":{"type":"square","size":190,"color":"#ffff66","opacity":1,"stroke":"#666666","strokeWidth":0.8},
   "encoding":{"x":{"datum":44.8,"type":"quantitative"},"y":{"datum":252.5,"type":"quantitative"}}},
  {"data":{"values":[{"t":"Low"}]},"mark":{"type":"text","fontSize":8.5,"color":"#333333","align":"center","baseline":"middle"},
   "encoding":{"x":{"datum":44.8,"type":"quantitative"},"y":{"datum":252.5,"type":"quantitative"},"text":{"field":"t","type":"nominal"}}}
 ]}
]},
{"width":437,"height":234.7,"data":{"name":"rightD"},
 "mark":{"type":"text","font":"Liberation Sans","fontSize":18,"baseline":"middle","color":"#000000","align":{"expr":"datum.a == 'R' ? 'right' : 'left'"},"fontStyle":{"expr":"datum.s == 'b' ? 'italic' : 'normal'"},"fontWeight":{"expr":"datum.s == 'b' ? 'bold' : 'normal'"}},
 "encoding":{"x":{"field":"a","type":"nominal","scale":{"type":"point","domain":["L","R"],"padding":0},"axis":null},"y":{"field":"ln","type":"quantitative","scale":{"domain":[-0.5,10.5],"reverse":true,"nice":false,"zero":false},"axis":null},"text":{"field":"t","type":"nominal"}}}
]
}
]
},
{
"width":950,"height":16,
"layer":[
{"data":{"values":[{"a":"L","a2":"R","r":"r"}]},"mark":{"type":"rule","color":"#4a5a6a","strokeWidth":1.5},
 "encoding":{"x":{"field":"a","type":"nominal","scale":{"type":"point","domain":["L","R"],"padding":0},"axis":null},"x2":{"field":"a2"},"y":{"field":"r","type":"nominal","scale":{"type":"point","domain":["r","n"],"padding":0},"axis":null}}},
{"data":{"values":[{"a":"R","r":"n","t":"5"}]},"mark":{"type":"text","font":"Liberation Serif","fontSize":18,"color":"#34568b","align":"center","baseline":"middle","dx":-69},
 "encoding":{"x":{"field":"a","type":"nominal"},"y":{"field":"r","type":"nominal"},"text":{"field":"t","type":"nominal"}}}
]
}
]
}
